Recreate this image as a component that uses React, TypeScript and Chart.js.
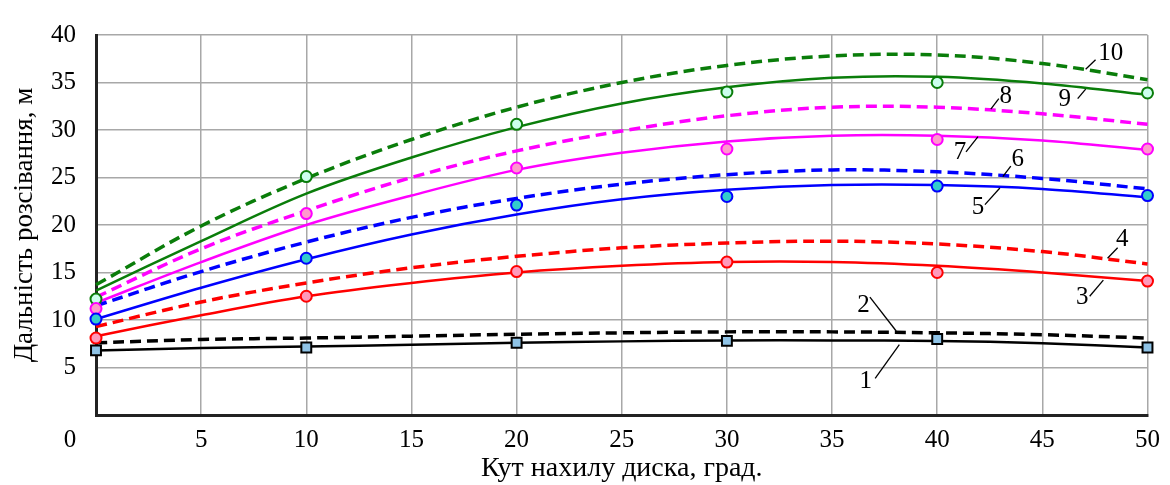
import { useEffect, useRef } from "react";
import { Chart, registerables } from "chart.js";

Chart.register(...registerables);

// X values of fitted curves (degrees)
const angles = [0, 5, 10, 15, 20, 25, 30, 35, 40, 45, 50];
// X values of measured points
const markerAngles = [0, 10, 20, 30, 40, 50];

// Fitted curves 1..10
const curve1 = [6.8, 7.05, 7.2, 7.4, 7.6, 7.75, 7.85, 7.85, 7.8, 7.55, 7.1];
const curve2 = [7.6, 7.95, 8.1, 8.3, 8.5, 8.65, 8.75, 8.75, 8.65, 8.45, 8.1];
const curve3 = [8.3, 10.5, 12.5, 13.9, 15.0, 15.7, 16.1, 16.1, 15.7, 15.0, 14.1];
const curve4 = [9.3, 11.9, 13.9, 15.5, 16.7, 17.6, 18.1, 18.3, 18.0, 17.2, 15.9];
const curve5 = [10.1, 13.4, 16.4, 19.0, 21.1, 22.7, 23.7, 24.2, 24.2, 23.8, 22.9];
const curve6 = [11.5, 15.1, 18.2, 20.8, 22.8, 24.3, 25.3, 25.8, 25.6, 24.9, 23.8];
const curve7 = [11.8, 16.1, 20.0, 23.1, 25.8, 27.6, 28.8, 29.4, 29.4, 28.9, 27.9];
const curve8 = [12.4, 17.5, 21.5, 25.0, 27.8, 29.9, 31.5, 32.4, 32.4, 31.7, 30.6];
const curve9 = [13.1, 18.3, 23.3, 27.1, 30.3, 32.8, 34.5, 35.5, 35.6, 34.9, 33.7];
const curve10 = [13.7, 19.9, 24.9, 29.0, 32.4, 35.0, 36.8, 37.8, 37.9, 37.0, 35.3];

// Measured points
const pointsBlack = [6.8, 7.1, 7.6, 7.8, 8.0, 7.1];
const pointsRed = [8.1, 12.5, 15.1, 16.1, 15.0, 14.1];
const pointsBlue = [10.1, 16.5, 22.1, 23.0, 24.1, 23.1];
const pointsPink = [11.2, 21.2, 26.0, 28.0, 29.0, 28.0];
const pointsGreen = [12.2, 25.1, 30.6, 34.0, 35.0, 33.9];

// Curve number labels: text, label position, leader line from/to (data units)
const labelTexts = ["1", "2", "3", "4", "5", "6", "7", "8", "9", "10"];
const labelPos = [
  [36.6, 3.56], [36.5, 11.5], [46.9, 12.4], [48.8, 18.5], [41.94, 21.85],
  [43.83, 26.9], [41.08, 27.6], [43.26, 33.5], [46.06, 33.2], [48.25, 38.1],
];
const leaderFrom = [
  [37.05, 3.86], [36.8, 12.4], [47.25, 12.5], [48.1, 16.5], [42.27, 22.15],
  [43.12, 25.1], [41.37, 27.7], [42.55, 32.2], [46.68, 33.3], [47.06, 36.4],
];
const leaderTo = [
  [38.2, 7.4], [38.05, 8.84], [47.9, 14.2], [48.58, 17.6], [42.98, 23.9],
  [43.5, 26.2], [41.94, 29.3], [42.93, 33.3], [47.06, 34.3], [47.53, 37.4],
];

const xTicks = [0, 5, 10, 15, 20, 25, 30, 35, 40, 45, 50];
const yTicks = [0, 5, 10, 15, 20, 25, 30, 35, 40];

const xTitle = "Кут нахилу диска, град.";
const yTitle = "Дальність розсівання, м";

const FONT = '"Liberation Serif", "DejaVu Serif", serif';

const toXY = (xs: number[], ys: number[]) => xs.map((x, i) => ({ x, y: ys[i] }));

const GREEN = "#0a7d0a";
const PINK = "#ff00ff";
const BLUE = "#0000ff";
const RED = "#ff0000";
const BLACK = "#000000";

function curve(data: number[], color: string, dashed: boolean) {
  return {
    type: "line" as const,
    data: toXY(angles, data),
    borderColor: color,
    borderWidth: dashed ? 3.5 : 2.5,
    borderDash: dashed ? [11, 6] : [],
    pointRadius: 0,
    tension: 0.35,
    fill: false,
    clip: false,
  };
}

function markers(data: number[], border: string, fillColor: string, square = false) {
  return {
    type: "line" as const,
    data: toXY(markerAngles, data),
    showLine: false,
    borderColor: border,
    backgroundColor: fillColor,
    pointStyle: square ? "rect" : "circle",
    pointRadius: square ? 7 : 5.5,
    pointBorderWidth: 2,
    pointBorderColor: border,
    pointBackgroundColor: fillColor,
    clip: false,
  };
}

const annotPlugin = {
  id: "annot",
  afterDatasetsDraw(chart: any) {
    const { ctx, scales } = chart;
    const x = scales.x;
    const y = scales.y;
    ctx.save();
    ctx.fillStyle = "#000";
    ctx.strokeStyle = "#000";
    ctx.lineWidth = 1.3;
    ctx.font = `25px ${FONT}`;
    ctx.textAlign = "center";
    ctx.textBaseline = "middle";
    labelTexts.forEach((t, i) => {
      ctx.fillText(t, x.getPixelForValue(labelPos[i][0]), y.getPixelForValue(labelPos[i][1]));
      ctx.beginPath();
      ctx.moveTo(x.getPixelForValue(leaderFrom[i][0]), y.getPixelForValue(leaderFrom[i][1]));
      ctx.lineTo(x.getPixelForValue(leaderTo[i][0]), y.getPixelForValue(leaderTo[i][1]));
      ctx.stroke();
    });
    // origin "0" label
    ctx.font = `25px ${FONT}`;
    ctx.fillText(String(xTicks[0]), x.getPixelForValue(0) - 26, y.getPixelForValue(0) + 25);
    ctx.restore();
  },
};

export default function App() {
  const ref = useRef<HTMLCanvasElement>(null);
  useEffect(() => {
    document.body.style.margin = "0";
    const chart = new Chart(ref.current!, {
      type: "line",
      data: {
        datasets: [
          markers(pointsBlack, BLACK, "#8fc3e6", true),
          markers(pointsRed, RED, "#ff99bb"),
          markers(pointsBlue, BLUE, "#33cccc"),
          markers(pointsPink, PINK, "#ff99cc"),
          markers(pointsGreen, GREEN, "#ccffee"),
          curve(curve1, BLACK, false),
          curve(curve2, BLACK, true),
          curve(curve3, RED, false),
          curve(curve4, RED, true),
          curve(curve5, BLUE, false),
          curve(curve6, BLUE, true),
          curve(curve7, PINK, false),
          curve(curve8, PINK, true),
          curve(curve9, GREEN, false),
          curve(curve10, GREEN, true),
        ] as any,
      },
      options: {
        animation: false,
        responsive: false,
        devicePixelRatio: 1,
        layout: { padding: { left: 0, right: 20, top: 22, bottom: 0 } },
        plugins: { legend: { display: false }, tooltip: { enabled: false } },
        scales: {
          x: {
            type: "linear",
            min: xTicks[0],
            max: xTicks[xTicks.length - 1],
            afterBuildTicks: (s: any) => { s.ticks = xTicks.map((v) => ({ value: v })); },
            afterFit: (s: any) => { s.height = 70; },
            ticks: {
              color: "#000",
              font: { family: FONT, size: 25 },
              padding: 10,
              maxRotation: 0,
              callback: (v: any) => (v === 0 ? "" : String(v)),
            },
            grid: { color: "#a8a8a8", lineWidth: 1.5, drawTicks: false },
            border: { color: "#222", width: 3 },
            title: {
              display: true,
              text: xTitle,
              color: "#000",
              font: { family: FONT, size: 28 },
              padding: { top: 0, bottom: 0 },
            },
          },
          y: {
            type: "linear",
            min: yTicks[0],
            max: yTicks[yTicks.length - 1],
            afterBuildTicks: (s: any) => { s.ticks = yTicks.map((v) => ({ value: v })); },
            afterFit: (s: any) => { s.width = 96; },
            ticks: {
              color: "#000",
              font: { family: FONT, size: 25 },
              padding: 20,
              callback: (v: any) => (v === 0 ? "" : String(v)),
            },
            grid: { color: "#a8a8a8", lineWidth: 1.5, drawTicks: false },
            border: { color: "#222", width: 3 },
            title: {
              display: true,
              text: yTitle,
              color: "#000",
              font: { family: FONT, size: 27 },
              padding: { top: 9, bottom: 0 },
            },
          },
        },
      },
      plugins: [annotPlugin],
    });
    return () => chart.destroy();
  }, []);
  return (
    <div style={{ width: 1170, height: 485 }}>
      <canvas ref={ref} width={1170} height={485} style={{ display: "block" }} />
    </div>
  );
}
